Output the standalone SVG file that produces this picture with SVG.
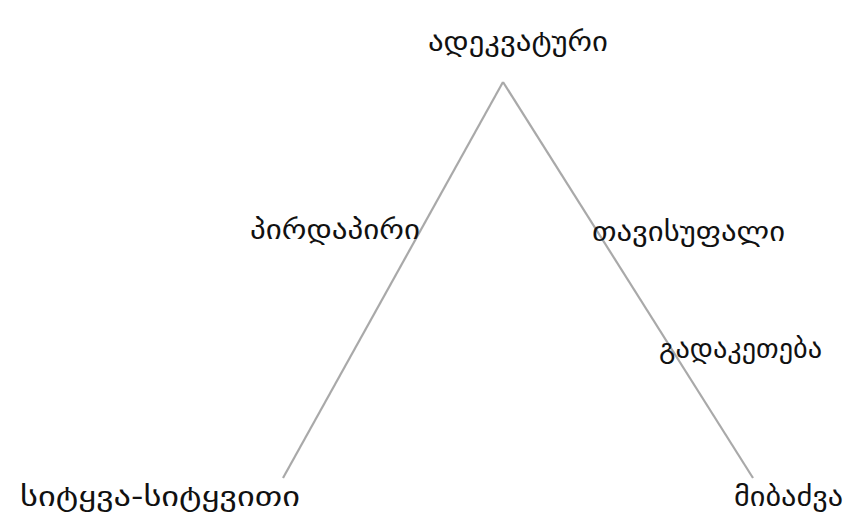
<svg xmlns="http://www.w3.org/2000/svg" width="861" height="523" viewBox="0 0 861 523">
<style>
.lbl{font-family:"DejaVu Sans",sans-serif;font-size:28px;fill:#111}
.ln{stroke:#a9a9a9;stroke-width:2.2;fill:none}
</style>
<rect width="861" height="523" fill="#fff"/>
<g id="connectors">
<line class="ln" x1="503" y1="82" x2="283" y2="478"/>
<line class="ln" x1="503" y1="82" x2="753" y2="478"/>
</g>
<g id="top"><text class="lbl" x="428" y="51" textLength="180" lengthAdjust="spacingAndGlyphs">ადეკვატური</text></g>
<g id="left-mid"><text class="lbl" x="250" y="239" textLength="170" lengthAdjust="spacingAndGlyphs">პირდაპირი</text></g>
<g id="right-mid"><text class="lbl" x="592" y="241" textLength="193" lengthAdjust="spacingAndGlyphs">თავისუფალი</text></g>
<g id="right-low"><text class="lbl" x="659" y="358" textLength="163" lengthAdjust="spacingAndGlyphs">გადაკეთება</text></g>
<g id="bottom-left"><text class="lbl" x="20" y="506" textLength="280" lengthAdjust="spacingAndGlyphs">სიტყვა-სიტყვითი</text></g>
<g id="bottom-right"><text class="lbl" x="734" y="506" textLength="109" lengthAdjust="spacingAndGlyphs">მიბაძვა</text></g>
</svg>
